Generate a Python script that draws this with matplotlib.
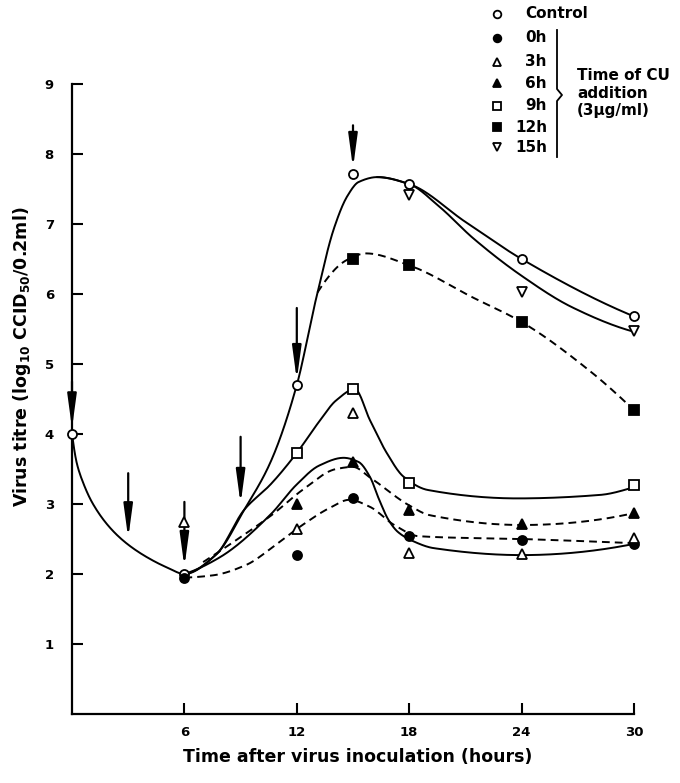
import numpy as np
import matplotlib.pyplot as plt
from matplotlib.lines import Line2D

plt.rcParams['font.family'] = ['DejaVu Sans']
plt.rcParams['mathtext.default'] = 'regular'

# measured titres (log10 CCID50/0.2ml)
t_control = [0, 6, 12, 15, 18, 24, 30]
v_control = [4.0, 2.0, 4.7, 7.72, 7.57, 6.5, 5.68]
t_0h = [6, 12, 15, 18, 24, 30]
v_0h = [1.95, 2.27, 3.08, 2.54, 2.49, 2.43]
t_3h = [6, 12, 15, 18, 24, 30]
v_3h = [2.75, 2.65, 4.3, 2.3, 2.28, 2.52]
t_6h = [12, 15, 18, 24, 30]
v_6h = [3.0, 3.6, 2.91, 2.72, 2.87]
t_9h = [12, 15, 18, 30]
v_9h = [3.73, 4.64, 3.3, 3.27]
t_12h = [15, 18, 24, 30]
v_12h = [6.5, 6.41, 5.6, 4.35]
t_15h = [18, 24, 30]
v_15h = [7.42, 6.03, 5.47]

# hand-drawn curves
c_control_t = [0, 0.25, 0.6, 1.1, 2.0, 2.9, 4.0, 5.1, 6, 7.7, 9.2, 10.6, 12, 13, 14, 14.7, 15.3, 16.3, 18, 21, 24, 30]
c_control_v = [4.0, 3.59, 3.3, 3.01, 2.67, 2.44, 2.24, 2.09, 2.0, 2.28, 2.92, 3.6, 4.7, 5.9, 6.95, 7.4, 7.6, 7.67, 7.57, 7.03, 6.5, 5.68]
c_15h_t = [16.3, 18, 19.6, 21.4, 24, 26.7, 30]
c_15h_v = [7.67, 7.57, 7.25, 6.8, 6.26, 5.81, 5.46]
c_12h_t = [13.1, 14.7, 15.7, 18, 21.4, 24, 27.6, 30]
c_12h_v = [6.02, 6.49, 6.58, 6.41, 5.95, 5.6, 4.91, 4.34]
c_9h_t = [6, 7.7, 9.2, 10.6, 12, 13.2, 14.1, 15.1, 15.9, 16.8, 17.7, 19, 23.8, 28.2, 30]
c_9h_v = [2.0, 2.28, 2.92, 3.28, 3.73, 4.18, 4.48, 4.64, 4.2, 3.73, 3.39, 3.2, 3.08, 3.13, 3.24]
c_3h_t = [6, 7.9, 10.6, 12, 13.2, 14.5, 15.3, 15.9, 16.4, 16.9, 17.4, 18.2, 19.3, 24, 30]
c_3h_v = [2.0, 2.24, 2.85, 3.28, 3.55, 3.66, 3.6, 3.39, 3.06, 2.77, 2.6, 2.47, 2.37, 2.27, 2.43]
c_6h_t = [7.0, 8.3, 10.7, 12.3, 14.1, 15, 15.9, 18, 19.1, 24, 30]
c_6h_v = [2.17, 2.4, 2.85, 3.2, 3.5, 3.53, 3.38, 2.98, 2.84, 2.7, 2.87]
c_0h_t = [6, 7.5, 9.3, 10.8, 12.3, 13.8, 14.8, 15.9, 17.2, 18.5, 24, 30]
c_0h_v = [1.95, 1.98, 2.13, 2.4, 2.7, 2.95, 3.06, 2.96, 2.7, 2.54, 2.5, 2.44]

# CU addition arrows: time, arrow start, arrow tip
arrow_t = [0, 3, 6, 9, 12, 15]
arrow_top = [4.75, 3.44, 3.03, 3.96, 5.8, 8.41]
arrow_tip = [4.08, 2.51, 2.1, 3.0, 4.77, 7.8]


def end_slope(h0, h1, d0, d1):
    m = ((2 * h0 + h1) * d0 - h0 * d1) / (h0 + h1)
    if np.sign(m) != np.sign(d0):
        m = 0.0
    elif np.sign(d0) != np.sign(d1) and abs(m) > abs(3 * d0):
        m = 3 * d0
    return m


def pchip(x, y, xs):
    x = np.asarray(x, float)
    y = np.asarray(y, float)
    h = np.diff(x)
    d = np.diff(y) / h
    m = np.zeros_like(y)
    for k in range(1, len(x) - 1):
        if d[k - 1] * d[k] > 0:
            w1 = 2 * h[k] + h[k - 1]
            w2 = h[k] + 2 * h[k - 1]
            m[k] = (w1 + w2) / (w1 / d[k - 1] + w2 / d[k])
    m[0] = end_slope(h[0], h[1], d[0], d[1])
    m[-1] = end_slope(h[-1], h[-2], d[-1], d[-2])
    i = np.clip(np.searchsorted(x, xs) - 1, 0, len(h) - 1)
    s = (xs - x[i]) / h[i]
    h00 = 2 * s**3 - 3 * s**2 + 1
    h10 = s**3 - 2 * s**2 + s
    h01 = -2 * s**3 + 3 * s**2
    h11 = s**3 - s**2
    return h00 * y[i] + h10 * h[i] * m[i] + h01 * y[i + 1] + h11 * h[i] * m[i + 1]


fig = plt.figure(figsize=(6.8, 7.83), dpi=100)
ax = fig.add_axes([72 / 680, 1 - 714 / 783, (634 - 72) / 680, (714 - 84) / 783])

solid = '-'
dashed = (0, (4, 2.6))
curves = [
    (c_control_t, c_control_v, solid),
    (c_15h_t, c_15h_v, solid),
    (c_12h_t, c_12h_v, dashed),
    (c_9h_t, c_9h_v, solid),
    (c_3h_t, c_3h_v, solid),
    (c_6h_t, c_6h_v, dashed),
    (c_0h_t, c_0h_v, dashed),
]
for ct, cv, ls in curves:
    xs = np.linspace(ct[0], ct[-1], 500)
    ax.plot(xs, pchip(ct, cv, xs), color='k', lw=1.4, ls=ls, clip_on=False, zorder=2)

series = [
    (t_control, v_control, 'o', 'white', 6.5),
    (t_0h, v_0h, 'o', 'black', 6.5),
    (t_3h, v_3h, '^', 'white', 7),
    (t_6h, v_6h, '^', 'black', 7),
    (t_9h, v_9h, 's', 'white', 6.5),
    (t_12h, v_12h, 's', 'black', 6.5),
    (t_15h, v_15h, 'v', 'white', 7),
]
for t, v, mk, fc, ms in series:
    ax.plot(t, v, ls='none', marker=mk, mfc=fc, mec='k', mew=1.3, ms=ms,
            clip_on=False, zorder=4)

for t, top, tip in zip(arrow_t, arrow_top, arrow_tip):
    ax.annotate('', xy=(t, tip), xytext=(t, top),
                arrowprops=dict(arrowstyle='-|>,head_length=2.0,head_width=0.27',
                                color='k', lw=1.6, shrinkA=0, shrinkB=0),
                annotation_clip=False, zorder=3)

ax.set_xlim(0, 30)
ax.set_ylim(0, 9)
ax.set_xticks([6, 12, 18, 24, 30])
ax.set_yticks(range(1, 10))
ax.spines['top'].set_visible(False)
ax.spines['right'].set_visible(False)
for sp in ['left', 'bottom']:
    ax.spines[sp].set_linewidth(1.6)
ax.tick_params(direction='in', length=8, width=1.5, labelsize=9.5)
ax.tick_params(axis='x', pad=9)
ax.tick_params(axis='y', pad=13)
for lab in ax.get_xticklabels() + ax.get_yticklabels():
    lab.set_fontweight('bold')

fig.text(358 / 680, 1 - 757 / 783, 'Time after virus inoculation (hours)',
         ha='center', va='center', fontsize=12.5, fontweight='bold')
fig.text(22 / 680, 1 - 357 / 783, r'Virus titre (log$_{10}$ CCID$_{50}$/0.2ml)',
         ha='center', va='center', rotation=90, fontsize=12.5, fontweight='bold')

# legend block
leg_labels = ['Control', '0h', '3h', '6h', '9h', '12h', '15h']
leg_y = [14, 38, 62, 83, 106, 127, 147]
for (t, v, mk, fc, ms), lab, py in zip(series, leg_labels, leg_y):
    fy = 1 - py / 783
    fig.add_artist(Line2D([497 / 680], [fy], ls='none', marker=mk, mfc=fc, mec='k',
                          mew=1.3, ms=ms - 1))
    if lab == 'Control':
        fig.text(525 / 680, fy, lab, ha='left', va='center', fontsize=11, fontweight='bold')
    else:
        fig.text(547 / 680, fy, lab, ha='right', va='center', fontsize=11, fontweight='bold')

bx = [557, 557, 562, 557, 557]
by = [30, 89, 95, 101, 157]
fig.add_artist(Line2D([p / 680 for p in bx], [1 - p / 783 for p in by], color='k', lw=1.3))
fig.text(577 / 680, 1 - 93 / 783, 'Time of CU\naddition\n(3µg/ml)', ha='left', va='center',
         fontsize=11, fontweight='bold', linespacing=1.2)

fig.savefig('out.png', dpi=100)
